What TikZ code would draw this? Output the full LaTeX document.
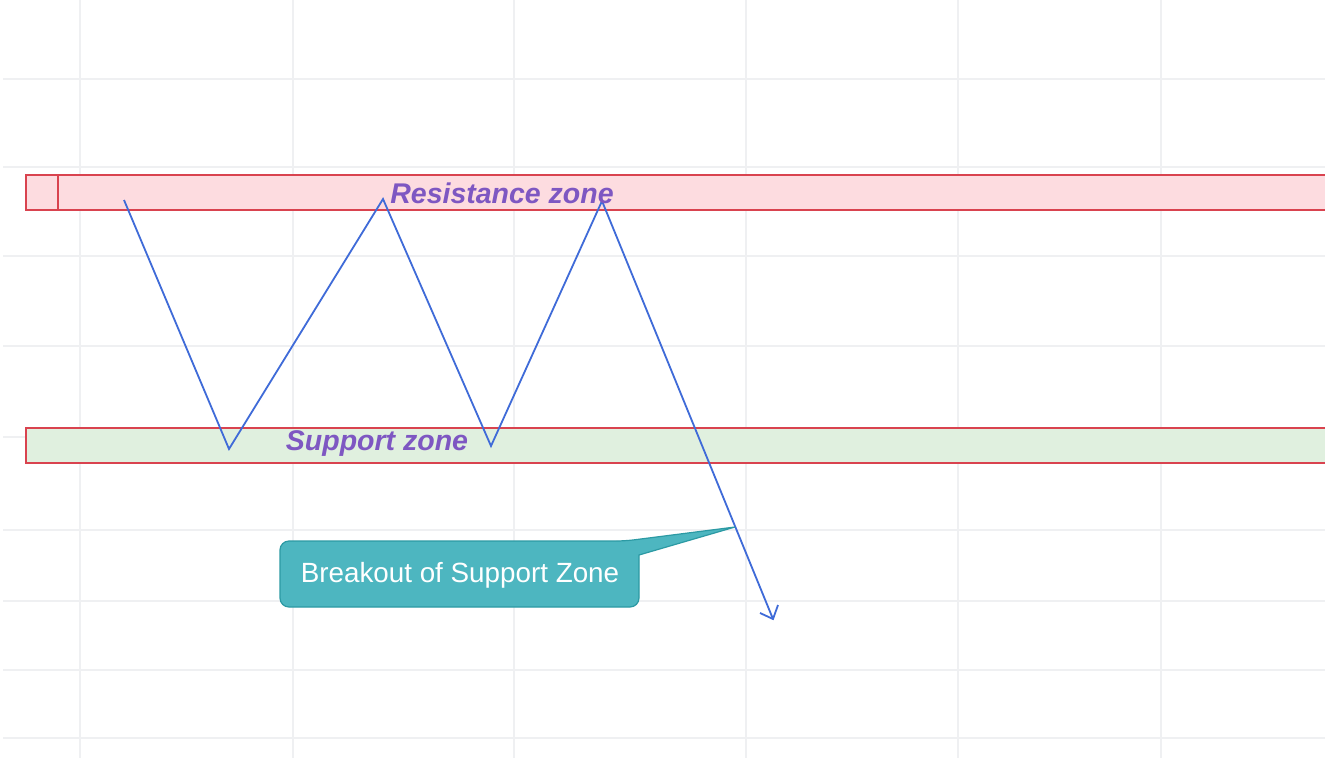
\documentclass[tikz,border=0pt]{standalone}
\usepackage{fontspec}
\setmainfont{Liberation Sans}
\definecolor{gridc}{HTML}{EFF0F2}
\definecolor{zonered}{HTML}{D9434F}
\definecolor{pinkfill}{HTML}{FDDCE0}
\definecolor{greenfill}{HTML}{E0F0DF}
\definecolor{purp}{HTML}{7E57C2}
\definecolor{bluel}{HTML}{3F6BD8}
\definecolor{tealf}{HTML}{4DB6C0}
\definecolor{teald}{HTML}{2C9AA4}
\tikzset{
  gridline/.style={draw=gridc, line width=1.1pt},
  zonebox/.style={draw=zonered, line width=1.7pt},
  zonelabel/.style={text=purp, font=\fontsize{28.5}{30}\selectfont\bfseries\itshape, anchor=base, inner sep=0pt},
  priceline/.style={draw=bluel, line width=1.8pt, line join=miter},
  callout/.style={fill=tealf, draw=teald, line width=1.2pt, rounded corners=9pt},
}
\begin{document}
\begin{tikzpicture}[x=1pt,y=-1pt]
\useasboundingbox (0,0) rectangle (1325,758);
\clip (0,0) rectangle (1325,758);
\fill[white] (0,0) rectangle (1325,758);
% grid
\foreach \gy in {79,167,256,346,437,530,601,670,738}
  \draw[gridline] (3,\gy) -- (1325,\gy);
\foreach \gx in {80,293,514,746,958,1161}
  \draw[gridline] (\gx,0) -- (\gx,758);
% zones
\path[zonebox, fill=pinkfill] (26,175) rectangle (1335,210);
\draw[zonebox] (58,175) -- (58,210);
\path[zonebox, fill=greenfill] (26,428) rectangle (1335,463);
% price path
\coordinate (p0) at (124,200);
\coordinate (p1) at (229,449);
\coordinate (p2) at (383,199);
\coordinate (p3) at (491,446);
\coordinate (p4) at (602,201);
\coordinate (p5) at (773,619);
\draw[priceline] (p0) -- (p1) -- (p2) -- (p3) -- (p4) -- (p5);
\draw[priceline] (p5) ++(-13,-6) -- (p5) -- ++(5,-14);
% labels
\node[zonelabel] (res) at (502,203) {Resistance zone};
\node[zonelabel] (sup) at (377,450) {Support zone};
% callout
\coordinate (tip) at (735,527);
\path[callout] (280,541) -- (625,541) [sharp corners] -- (tip) -- (639,555) [rounded corners=9pt] -- (639,607) -- (280,607) -- cycle;
\node[text=white, font=\fontsize{27.8}{29}\selectfont, anchor=base, inner sep=0pt] (brk) at (460,582) {Breakout of Support Zone};
\end{tikzpicture}
\end{document}
